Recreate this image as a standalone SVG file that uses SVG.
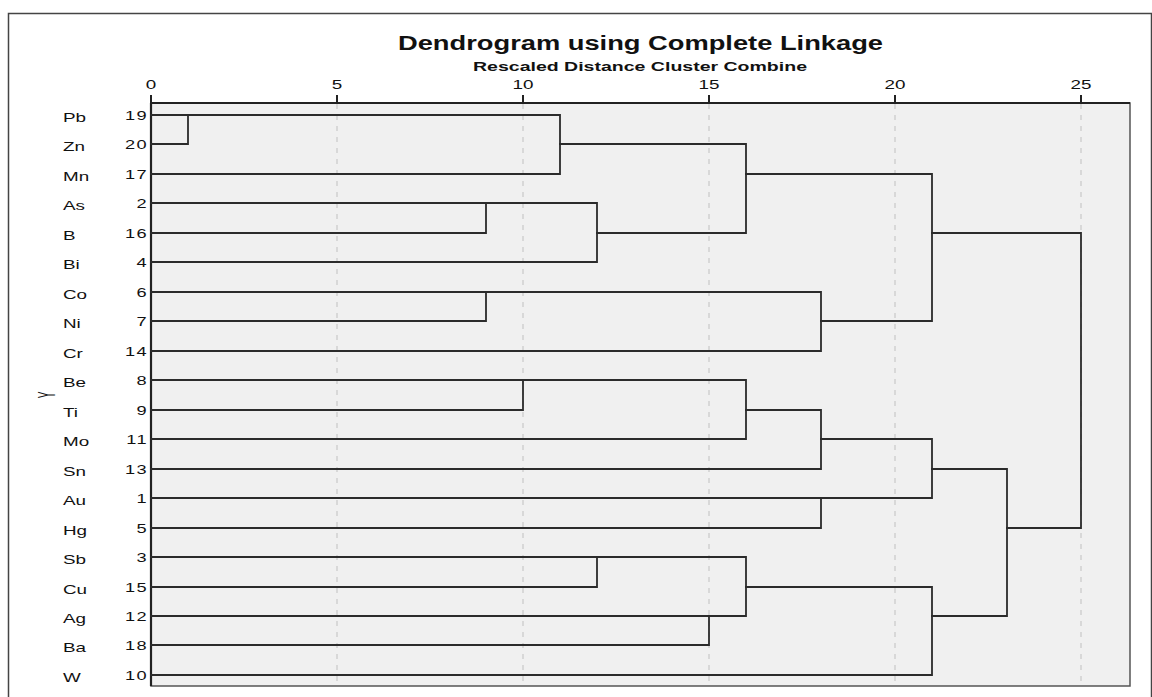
<svg xmlns="http://www.w3.org/2000/svg" width="1152" height="697" viewBox="0 0 1152 697">
<style>
text{font-family:"Liberation Sans",Arial,sans-serif;fill:#111}
.title{font-weight:bold;font-size:20px}
.sub{font-weight:bold;font-size:12.5px}
.tick{font-size:13px}
.lab{font-size:13px}
.num{font-size:13px;letter-spacing:1px}
.grid{stroke:#cfcfcf;stroke-width:1.5;stroke-dasharray:5 6;fill:none}
.tk{stroke:#222;stroke-width:2}
.c{fill:none;stroke:#2b2b2b;stroke-width:1.8;stroke-linejoin:miter;stroke-linecap:square}
</style>
<rect x="0" y="0" width="1152" height="697" fill="#ffffff"/>
<rect x="8.5" y="13.5" width="1143" height="700" fill="none" stroke="#444" stroke-width="1.5"/>
<g id="titles">
<text class="title" x="640.5" y="50" text-anchor="middle" textLength="485" lengthAdjust="spacingAndGlyphs">Dendrogram using Complete Linkage</text>
<text class="sub" x="640" y="70.5" text-anchor="middle" textLength="334" lengthAdjust="spacingAndGlyphs">Rescaled Distance Cluster Combine</text>
</g>
<g id="plot">
<rect x="151" y="103" width="979" height="583" fill="#f0f0f0" stroke="#555" stroke-width="1.5"/>
<line x1="337" y1="104" x2="337" y2="686" class="grid"/>
<line x1="523" y1="104" x2="523" y2="686" class="grid"/>
<line x1="709" y1="104" x2="709" y2="686" class="grid"/>
<line x1="895" y1="104" x2="895" y2="686" class="grid"/>
<line x1="1081" y1="104" x2="1081" y2="686" class="grid"/>
<line x1="151" y1="103" x2="151" y2="686" stroke="#222" stroke-width="2.2"/>
<line x1="151" y1="103" x2="1130" y2="103" stroke="#222" stroke-width="1.8"/>
</g>
<g id="axis">
<line x1="151" y1="95" x2="151" y2="103" class="tk"/>
<line x1="337" y1="95" x2="337" y2="103" class="tk"/>
<line x1="523" y1="95" x2="523" y2="103" class="tk"/>
<line x1="709" y1="95" x2="709" y2="103" class="tk"/>
<line x1="895" y1="95" x2="895" y2="103" class="tk"/>
<line x1="1081" y1="95" x2="1081" y2="103" class="tk"/>
<text class="tick" text-anchor="middle" transform="translate(151 89) scale(1.45 1)">0</text>
<text class="tick" text-anchor="middle" transform="translate(337 89) scale(1.45 1)">5</text>
<text class="tick" text-anchor="middle" transform="translate(523 89) scale(1.45 1)">10</text>
<text class="tick" text-anchor="middle" transform="translate(709 89) scale(1.45 1)">15</text>
<text class="tick" text-anchor="middle" transform="translate(895 89) scale(1.45 1)">20</text>
<text class="tick" text-anchor="middle" transform="translate(1081 89) scale(1.45 1)">25</text>
<text style="font-size:10px" text-anchor="middle" transform="translate(55 395) scale(2.3 1) rotate(-90)">Y</text>
</g>
<g id="labels">
<text class="lab" transform="translate(63 121.5) scale(1.45 1)">Pb</text>
<text class="lab" transform="translate(63 150.5) scale(1.45 1)">Zn</text>
<text class="lab" transform="translate(63 180.5) scale(1.45 1)">Mn</text>
<text class="lab" transform="translate(63 209.5) scale(1.45 1)">As</text>
<text class="lab" transform="translate(63 239.5) scale(1.45 1)">B</text>
<text class="lab" transform="translate(63 268.5) scale(1.45 1)">Bi</text>
<text class="lab" transform="translate(63 298.5) scale(1.45 1)">Co</text>
<text class="lab" transform="translate(63 327.5) scale(1.45 1)">Ni</text>
<text class="lab" transform="translate(63 357.5) scale(1.45 1)">Cr</text>
<text class="lab" transform="translate(63 386.5) scale(1.45 1)">Be</text>
<text class="lab" transform="translate(63 416.5) scale(1.45 1)">Ti</text>
<text class="lab" transform="translate(63 445.5) scale(1.45 1)">Mo</text>
<text class="lab" transform="translate(63 475.5) scale(1.45 1)">Sn</text>
<text class="lab" transform="translate(63 504.5) scale(1.45 1)">Au</text>
<text class="lab" transform="translate(63 534.5) scale(1.45 1)">Hg</text>
<text class="lab" transform="translate(63 563.5) scale(1.45 1)">Sb</text>
<text class="lab" transform="translate(63 593.5) scale(1.45 1)">Cu</text>
<text class="lab" transform="translate(63 622.5) scale(1.45 1)">Ag</text>
<text class="lab" transform="translate(63 651.5) scale(1.45 1)">Ba</text>
<text class="lab" transform="translate(63 681.5) scale(1.45 1)">W</text>
</g>
<g id="numbers">
<text class="num" text-anchor="end" transform="translate(148 119.5) scale(1.4 1)">19</text>
<text class="num" text-anchor="end" transform="translate(148 149) scale(1.4 1)">20</text>
<text class="num" text-anchor="end" transform="translate(148 179) scale(1.4 1)">17</text>
<text class="num" text-anchor="end" transform="translate(148 208) scale(1.4 1)">2</text>
<text class="num" text-anchor="end" transform="translate(148 238) scale(1.4 1)">16</text>
<text class="num" text-anchor="end" transform="translate(148 267) scale(1.4 1)">4</text>
<text class="num" text-anchor="end" transform="translate(148 297) scale(1.4 1)">6</text>
<text class="num" text-anchor="end" transform="translate(148 326) scale(1.4 1)">7</text>
<text class="num" text-anchor="end" transform="translate(148 356) scale(1.4 1)">14</text>
<text class="num" text-anchor="end" transform="translate(148 385) scale(1.4 1)">8</text>
<text class="num" text-anchor="end" transform="translate(148 415) scale(1.4 1)">9</text>
<text class="num" text-anchor="end" transform="translate(148 444) scale(1.4 1)">11</text>
<text class="num" text-anchor="end" transform="translate(148 474) scale(1.4 1)">13</text>
<text class="num" text-anchor="end" transform="translate(148 503) scale(1.4 1)">1</text>
<text class="num" text-anchor="end" transform="translate(148 533) scale(1.4 1)">5</text>
<text class="num" text-anchor="end" transform="translate(148 562) scale(1.4 1)">3</text>
<text class="num" text-anchor="end" transform="translate(148 592) scale(1.4 1)">15</text>
<text class="num" text-anchor="end" transform="translate(148 621) scale(1.4 1)">12</text>
<text class="num" text-anchor="end" transform="translate(148 650) scale(1.4 1)">18</text>
<text class="num" text-anchor="end" transform="translate(148 680) scale(1.4 1)">10</text>
</g>
<g id="connectors">
<path class="c" d="M151 115 H188 V144 H151"/>
<path class="c" d="M188 115 H560 V174 H151"/>
<path class="c" d="M151 203 H486 V233 H151"/>
<path class="c" d="M486 203 H597 V262 H151"/>
<path class="c" d="M560 144 H746 V233 H597"/>
<path class="c" d="M151 292 H486 V321 H151"/>
<path class="c" d="M486 292 H821 V351 H151"/>
<path class="c" d="M746 174 H932 V321 H821"/>
<path class="c" d="M151 380 H523 V410 H151"/>
<path class="c" d="M523 380 H746 V439 H151"/>
<path class="c" d="M746 410 H821 V469 H151"/>
<path class="c" d="M151 498 H821 V528 H151"/>
<path class="c" d="M821 439 H932 V498 H821"/>
<path class="c" d="M151 557 H597 V587 H151"/>
<path class="c" d="M151 616 H709 V645 H151"/>
<path class="c" d="M597 557 H746 V616 H709"/>
<path class="c" d="M746 587 H932 V675 H151"/>
<path class="c" d="M932 469 H1007 V616 H932"/>
<path class="c" d="M932 233 H1081 V528 H1007"/>
</g>
</svg>
